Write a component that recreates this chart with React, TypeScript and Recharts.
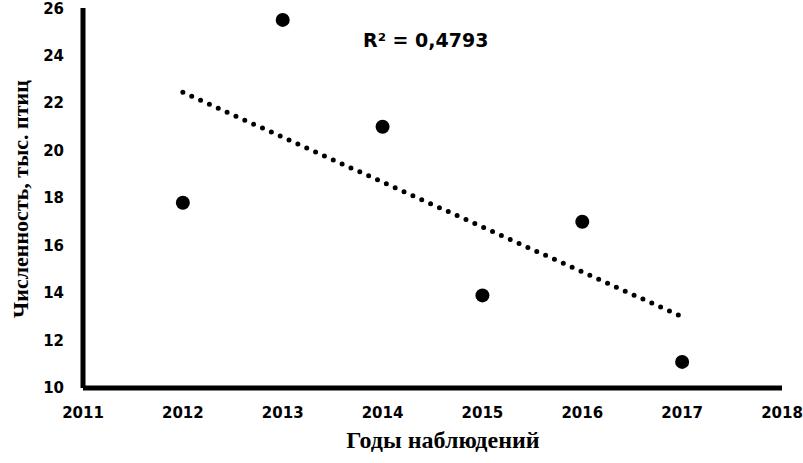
import React from 'react';
import { ComposedChart, Scatter, Line, XAxis, YAxis } from 'recharts';

const years = [2012, 2013, 2014, 2015, 2016, 2017];
const counts = [17.8, 25.5, 21.0, 13.9, 17.0, 11.1];
const trendYears = [2012, 2017];
const trendValues = [22.45, 13.0];
const xTicks = [2011, 2012, 2013, 2014, 2015, 2016, 2017, 2018];
const yTicks = [10, 12, 14, 16, 18, 20, 22, 24, 26];
const r2Label = 'R² = 0,4793';
const xTitle = 'Годы наблюдений';
const yTitle = 'Численность, тыс. птиц';

const points = years.map((x, i) => ({ x, y: counts[i] }));
const trend = trendYears.map((x, i) => ({ x, y: trendValues[i] }));

const tickStyle = { fontFamily: 'DejaVu Sans', fontWeight: 'bold', fontSize: 15, fill: '#000' };

export default function App() {
  return (
    <div style={{ position: 'absolute', left: 0, top: 0, width: 803, height: 463, background: '#fff' }}>
      <ComposedChart width={803} height={463} margin={{ top: 8, right: 21, bottom: 45, left: 0 }}>
        <XAxis
          type="number"
          dataKey="x"
          domain={[2011, 2018]}
          ticks={xTicks}
          allowDataOverflow
          tickLine={false}
          tickSize={0}
          tickMargin={19}
          axisLine={{ stroke: '#000', strokeWidth: 5 }}
          tick={tickStyle}
        />
        <YAxis
          type="number"
          dataKey="y"
          domain={[10, 26]}
          ticks={yTicks}
          width={83}
          tickLine={false}
          tickSize={0}
          tickMargin={19}
          axisLine={{ stroke: '#000', strokeWidth: 5 }}
          tick={tickStyle}
        />
        <Line
          data={trend}
          dataKey="y"
          stroke="#000"
          strokeWidth={5}
          strokeDasharray="0 9.7"
          strokeLinecap="round"
          dot={false}
          activeDot={false}
          isAnimationActive={false}
        />
        <Scatter
          data={points}
          dataKey="y"
          fill="#000"
          shape={(p: any) => <circle cx={p.cx} cy={p.cy} r={7} fill="#000" />}
          isAnimationActive={false}
        />
      </ComposedChart>
      <div
        style={{
          position: 'absolute', left: 363, top: 28, fontFamily: 'DejaVu Sans', fontWeight: 'bold',
          fontSize: 19, lineHeight: '24px', whiteSpace: 'nowrap', color: '#000',
        }}
      >
        {r2Label}
      </div>
      <div
        style={{
          position: 'absolute', left: 443, top: 440, transform: 'translate(-50%, -50%)',
          fontFamily: 'Liberation Serif', fontWeight: 'bold', fontSize: 24, whiteSpace: 'nowrap', color: '#000',
        }}
      >
        {xTitle}
      </div>
      <div
        style={{
          position: 'absolute', left: 21, top: 199, transform: 'translate(-50%, -50%) rotate(-90deg)',
          fontFamily: 'Liberation Serif', fontWeight: 'bold', fontSize: 22, whiteSpace: 'nowrap', color: '#000',
        }}
      >
        {yTitle}
      </div>
    </div>
  );
}
